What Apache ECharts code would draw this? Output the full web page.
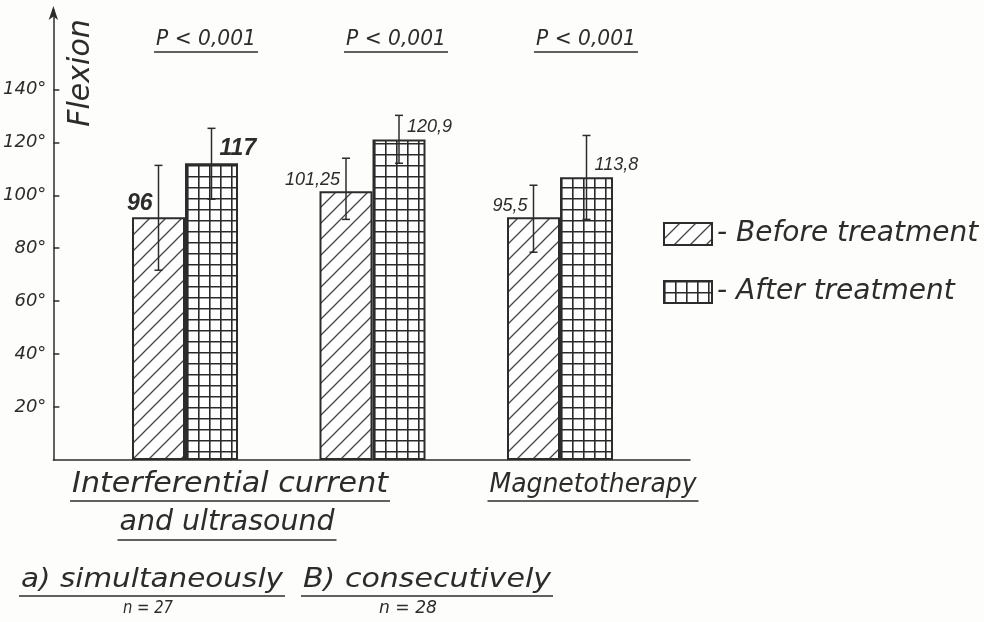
<!DOCTYPE html>
<html>
<head>
<meta charset="utf-8">
<script src="https://cdn.jsdelivr.net/npm/echarts@6/dist/echarts.min.js"></script>
<style>
html,body{margin:0;padding:0;background:#fdfdfb;}
#main{width:984px;height:622px;}
</style>
</head>
<body>
<div id="main"></div>
<script>
var fontFamily='"DejaVu Sans","Liberation Sans",sans-serif';
var numFont='"Liberation Sans",Arial,sans-serif';
var ink='#2c2c2c';

// data
var categories=['Interferential current a','Interferential current b','Magnetotherapy'];
var seriesNames=['Before treatment','After treatment'];
var beforeHeight=[91.7,101.5,91.7];
var afterHeight=[112.1,121.1,106.8];
var beforeLabel=['96','101,25','95,5'];
var afterLabel=['117','120,9','113,8'];
var beforeErrLow=[71.7,90.9,78.5];
var beforeErrHigh=[111.3,114.0,103.8];
var afterErrLow=[98.5,112.1,90.9];
var afterErrHigh=[125.3,130.2,122.6];
var yTicks=[20,40,60,80,100,120,140];
var pLabels=['P < 0,001','P < 0,001','P < 0,001'];

var barW=53;

// fill patterns
function hatchPattern(){
    var t=16,c=document.createElement('canvas');
    c.width=t;c.height=t;
    var g=c.getContext('2d');
    g.fillStyle='#fefefe';g.fillRect(0,0,t,t);
    g.strokeStyle='#444';g.lineWidth=1.3;
    g.beginPath();
    g.moveTo(0,t);g.lineTo(t,0);
    g.moveTo(-2,2);g.lineTo(2,-2);
    g.moveTo(t-2,t+2);g.lineTo(t+2,t-2);
    g.stroke();
    return c;
}
function gridPattern(){
    var t=11,c=document.createElement('canvas');
    c.width=t;c.height=t;
    var g=c.getContext('2d');
    g.fillStyle='#fefefe';g.fillRect(0,0,t,t);
    g.strokeStyle='#2a2a2a';g.lineWidth=1.6;
    g.beginPath();
    g.moveTo(0.8,0);g.lineTo(0.8,t);
    g.moveTo(0,0.8);g.lineTo(t,0.8);
    g.stroke();
    return c;
}

var measure=document.createElement('canvas').getContext('2d');
// italic hand-lettered text, optionally stretched to a width and underlined
function note(text,cx,cy,size,width,underline,weight){
    var w=weight||'normal';
    measure.font='italic '+w+' '+size+'px '+fontFamily;
    var tw=measure.measureText(text).width;
    var sx=width?width/tw:1;
    var out=[{
        type:'text',x:cx,y:cy,scaleX:sx,
        style:{text:text,fontFamily:fontFamily,fontSize:size,fontStyle:'italic',fontWeight:w,
            fill:ink,align:'center',verticalAlign:'middle'}
    }];
    if(underline){
        var hw=(width||tw)/2+2;
        out.push({type:'line',shape:{x1:cx-hw,y1:cy+underline,x2:cx+hw,y2:cy+underline},
            style:{stroke:ink,lineWidth:1.6}});
    }
    return out;
}

function errData(lo,hi){
    return lo.map(function(v,i){return [i,v,hi[i]];});
}
function errSeries(name,lo,hi,dx){
    return {
        name:name,type:'custom',xAxisIndex:1,yAxisIndex:1,z:5,
        data:errData(lo,hi),
        encode:{x:0,y:[1,2]},
        renderItem:function(params,api){
            var a=api.coord([api.value(0),api.value(1)]);
            var b=api.coord([api.value(0),api.value(2)]);
            var x=a[0]+dx,cap=4;
            var st={stroke:ink,lineWidth:1.5};
            return {type:'group',children:[
                {type:'line',shape:{x1:x,y1:a[1],x2:x,y2:b[1]},style:st},
                {type:'line',shape:{x1:x-cap,y1:a[1],x2:x+cap,y2:a[1]},style:st},
                {type:'line',shape:{x1:x-cap,y1:b[1],x2:x+cap,y2:b[1]},style:st}
            ]};
        }
    };
}

function barData(vals,labels,left){
    return vals.map(function(v,i){
        var big=i===0;
        return {
            value:v,
            label:{
                formatter:labels[i],
                fontSize:big?23:18,
                fontWeight:big?'bold':'normal',
                align:left?'right':'left',
                offset:left?[-6,-2]:[8,-3]
            }
        };
    });
}

var chart=echarts.init(document.getElementById('main'));

var graphics=[];
// y axis name
graphics.push({type:'text',x:81,y:73,rotation:Math.PI/2,
    style:{text:'Flexion',fontFamily:fontFamily,fontSize:30,fontStyle:'italic',fill:ink,
        align:'center',verticalAlign:'middle'}});
// significance over each group
var pX=[206,396,586];
pLabels.forEach(function(t,i){graphics=graphics.concat(note(t,pX[i],40,21,100,12));});
// category captions
graphics=graphics.concat(note('Interferential current',230,485,28,316,16));
graphics=graphics.concat(note('and ultrasound',227,523,28,215,17));
graphics=graphics.concat(note('Magnetotherapy',593,485,26,207,16));
graphics=graphics.concat(note('a) simultaneously',152,580,27,262,16));
graphics=graphics.concat(note('B) consecutively',427,580,27,248,16));
graphics=graphics.concat(note('n = 27',148,608,18,50));
graphics=graphics.concat(note('n = 28',408,608,18,58));

var option={
    backgroundColor:'#fdfdfb',
    animation:false,
    textStyle:{fontFamily:fontFamily,color:ink},
    grid:[
        {left:53,right:294,top:10,bottom:162},
        {left:91.25,right:330.25,top:10,bottom:162}
    ],
    legend:{
        data:seriesNames,
        orient:'vertical',
        left:658,top:215,
        itemWidth:48,itemHeight:22,itemGap:30,
        icon:'rect',
        formatter:function(n){return '- '+n;},
        textStyle:{fontFamily:fontFamily,fontSize:28,fontStyle:'italic',color:ink}
    },
    xAxis:[
        {type:'value',gridIndex:0,min:0,max:1,
            axisLine:{show:true,lineStyle:{color:ink,width:1.5}},
            axisTick:{show:false},axisLabel:{show:false},splitLine:{show:false}},
        {type:'category',gridIndex:1,data:categories,
            axisLine:{show:false},axisTick:{show:false},axisLabel:{show:false}}
    ],
    yAxis:[
        {type:'value',gridIndex:0,min:0,max:170,interval:20,
            axisLine:{show:true,symbol:['none','arrow'],symbolSize:[7,14],symbolOffset:[0,4],
                lineStyle:{color:ink,width:1.5}},
            axisTick:{show:true,inside:true,length:6,customValues:yTicks,lineStyle:{color:ink,width:1.5}},
            axisLabel:{customValues:yTicks,formatter:'{value}°',margin:7,fontSize:18,fontStyle:'italic',
                color:ink,padding:[0,0,12,0]},
            splitLine:{show:false}},
        {type:'value',gridIndex:1,min:0,max:170,show:false}
    ],
    series:[
        {
            name:seriesNames[0],type:'bar',xAxisIndex:1,yAxisIndex:1,
            barWidth:barW,barGap:'0%',
            itemStyle:{color:{image:hatchPattern(),repeat:'repeat'},borderColor:ink,borderWidth:2},
            label:{show:true,position:['50%',0],verticalAlign:'bottom',fontStyle:'italic',
                fontFamily:numFont,color:ink},
            data:barData(beforeHeight,beforeLabel,true)
        },
        {
            name:seriesNames[1],type:'bar',xAxisIndex:1,yAxisIndex:1,
            barWidth:barW,barGap:'0%',
            itemStyle:{color:{image:gridPattern(),repeat:'repeat'},borderColor:ink,borderWidth:2},
            label:{show:true,position:['50%',0],verticalAlign:'bottom',fontStyle:'italic',
                fontFamily:numFont,color:ink},
            data:barData(afterHeight,afterLabel,false)
        },
        errSeries('err-before',beforeErrLow,beforeErrHigh,-barW/2),
        errSeries('err-after',afterErrLow,afterErrHigh,barW/2)
    ],
    graphic:graphics
};
chart.setOption(option);
</script>
</body>
</html>
